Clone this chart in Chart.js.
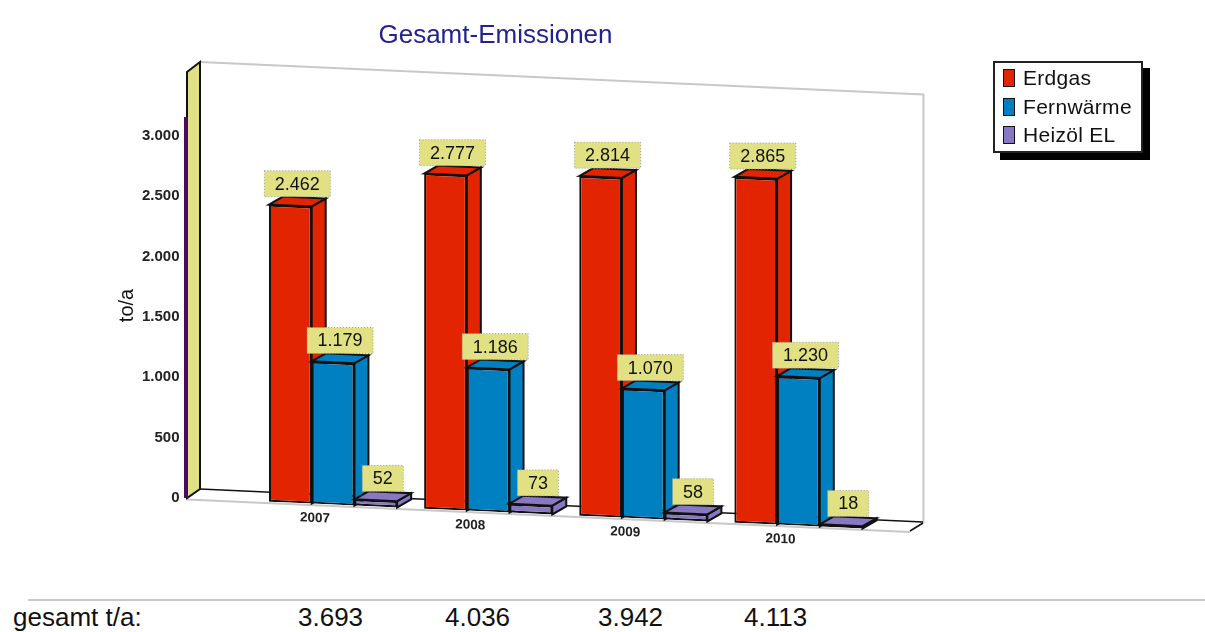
<!DOCTYPE html>
<html lang="de">
<head>
    <meta charset="UTF-8">
    <title>Gesamt-Emissionen</title>
    <script src="https://cdn.jsdelivr.net/npm/chart.js"></script>
    <style>
        body { margin: 0; background: #fff; font-family: "Liberation Sans", Arial, sans-serif; color: #111; }
        #wrap { position: relative; width: 1205px; height: 632px; overflow: hidden; }
        canvas { position: absolute; left: 0; top: 0; }
        #legend {
            position: absolute; left: 993px; top: 61px; width: 146px; height: 88px;
            background: #fff; border: 2px solid #222; box-shadow: 7px 7px 0 #000;
            font-size: 21px; letter-spacing: 0.3px; padding-top: 0;
        }
        .row { position: absolute; left: 8px; height: 20px; line-height: 20px; white-space: nowrap; }
        .swatch { display: inline-block; position: absolute; left: 0; top: 0; width: 10px; height: 16px; border: 1px solid #111; }
        .row span.t { position: absolute; left: 20px; top: -1px; }
        #rule { position: absolute; left: 28px; right: 0; top: 599px; height: 2px; background: #c8c8c8; }
        .total { position: absolute; top: 602px; font-size: 26px; line-height: 30px; white-space: nowrap; }
    </style>
</head>
<body>
<div id="wrap">
    <canvas id="chart" width="1205" height="590"></canvas>
    <div id="legend"></div>
    <div id="rule"></div>
    <div class="total" style="left:13px">gesamt t/a:</div>
</div>
<script>
    const years = ['2007', '2008', '2009', '2010'];
    const erdgas = [2462, 2777, 2814, 2865];
    const fernwaerme = [1179, 1186, 1070, 1230];
    const heizoel = [52, 73, 58, 18];
    const yTicks = [0, 500, 1000, 1500, 2000, 2500, 3000];
    const totals = ['3.693', '4.036', '3.942', '4.113'];
    const totalLeft = [298, 445, 598, 744];
    const seriesNames = ['Erdgas', 'Fernwärme', 'Heizöl EL'];
    const seriesColors = ['#e32400', '#0080c0', '#8878c3'];

    const FONT = '"Liberation Sans", Arial, sans-serif';
    const SLOPE = 0.045;   // the whole plot leans down to the right
    const X0 = 187;        // front left corner of the floor
    const DEPTH_X = 14;
    const DEPTH_Y = 8.6;

    function leaned(x, y) { return y + SLOPE * (x - X0); }
    function fmt(v) { return String(v).replace(/\B(?=(\d{3})+$)/g, '.'); }

    function poly(ctx, pts, fill, stroke, lw) {
        ctx.beginPath();
        pts.forEach((p, i) => i ? ctx.lineTo(p[0], p[1]) : ctx.moveTo(p[0], p[1]));
        ctx.closePath();
        if (fill) { ctx.fillStyle = fill; ctx.fill(); }
        if (stroke) { ctx.strokeStyle = stroke; ctx.lineWidth = lw; ctx.stroke(); }
    }

    function line(ctx, x1, y1, x2, y2, color, lw) {
        ctx.beginPath();
        ctx.moveTo(x1, y1);
        ctx.lineTo(x2, y2);
        ctx.strokeStyle = color;
        ctx.lineWidth = lw;
        ctx.stroke();
    }

    function drawRoom(chart, ctx, base) {
        line(ctx, 200, 62, 924, 94.5, '#c8c8c8', 2);
        line(ctx, 923.5, 94, 923.5, 523, '#c8c8c8', 2);
        line(ctx, 187, 499.5, 910, 532, '#c8c8c8', 2);
        line(ctx, 200, 489, 923, 522, '#111', 1.5);
        line(ctx, 910, 531, 923, 523, '#111', 1.5);
        poly(ctx, [[187, 72], [200, 62], [200, 489], [187, base]], '#e0e084', '#111', 2);
        line(ctx, 186, 117, 186, base, '#4b0a5a', 4);
    }

    function drawLabels(chart, ctx) {
        ctx.font = '18px ' + FONT;
        ctx.textAlign = 'center';
        ctx.textBaseline = 'middle';
        chart.data.datasets.forEach((ds, d) => {
            chart.getDatasetMeta(d).data.forEach((el, i) => {
                const text = fmt(ds.data[i]);
                const cx = el.x + DEPTH_X / 2;
                const bottom = leaned(cx, el.y - DEPTH_Y) - 0.5;
                const w = ctx.measureText(text).width + 21;
                const h = 26;
                ctx.fillStyle = '#e1e184';
                ctx.fillRect(cx - w / 2, bottom - h, w, h);
                ctx.save();
                ctx.setLineDash([1, 2]);
                ctx.strokeStyle = '#9a9a9a';
                ctx.lineWidth = 1;
                ctx.strokeRect(cx - w / 2, bottom - h, w, h);
                ctx.restore();
                ctx.fillStyle = '#111';
                ctx.fillText(text, cx, bottom - h / 2 + 1);
            });
        });
    }

    const room = {
        id: 'room',
        beforeDatasetsDraw(chart) {
            const ctx = chart.ctx;
            const base = chart.scales.y.getPixelForValue(0);
            drawRoom(chart, ctx, base);

            // everything on the floor leans with it
            ctx.save();
            ctx.transform(1, SLOPE, 0, 1, 0, -SLOPE * X0);

            ctx.font = 'bold 13.5px ' + FONT;
            ctx.fillStyle = '#222';
            ctx.textAlign = 'center';
            ctx.textBaseline = 'middle';
            years.forEach((y, i) => {
                ctx.fillText(y, chart.scales.x.getPixelForTick(i) - 18, base + 14.5);
            });

            // left bar first, so the next one covers its side face
            chart.data.datasets.forEach((ds, d) => {
                chart.getDatasetMeta(d).data.forEach(el => {
                    const r = el.x + el.width / 2;
                    const l = el.x - el.width / 2;
                    poly(ctx, [[r, el.y], [r + DEPTH_X, el.y - DEPTH_Y], [r + DEPTH_X, el.base - DEPTH_Y], [r, el.base]], seriesColors[d], '#111', 2);
                    poly(ctx, [[l, el.y], [l + DEPTH_X, el.y - DEPTH_Y], [r + DEPTH_X, el.y - DEPTH_Y], [r, el.y]], seriesColors[d], '#111', 2);
                    el.draw(ctx);
                });
            });
            ctx.restore();

            drawLabels(chart, ctx);
            return false;
        }
    };

    new Chart(document.getElementById('chart').getContext('2d'), {
        type: 'bar',
        data: {
            labels: years,
            datasets: [erdgas, fernwaerme, heizoel].map((data, i) => ({
                label: seriesNames[i],
                data,
                backgroundColor: seriesColors[i],
                borderColor: '#111',
                borderWidth: 2,
                borderSkipped: false,
                categoryPercentage: 0.826,
                barPercentage: 1
            }))
        },
        options: {
            responsive: false,
            animation: false,
            layout: { padding: { left: 115, right: 329, top: 20.6, bottom: 92 } },
            plugins: {
                legend: { display: false },
                tooltip: { enabled: false },
                title: {
                    display: true,
                    text: 'Gesamt-Emissionen',
                    color: '#232390',
                    font: { family: FONT, size: 26, weight: 'normal', lineHeight: 1.2 },
                    padding: { top: 0, bottom: 61.2 }
                }
            },
            scales: {
                x: { display: false, grid: { display: false } },
                y: {
                    min: 0,
                    max: 3190,
                    afterFit(s) { s.width = 140.5; },
                    afterBuildTicks(s) { s.ticks = yTicks.map(value => ({ value })); },
                    grid: { display: false, drawTicks: false },
                    border: { display: false },
                    title: {
                        display: true,
                        text: 'to/a',
                        color: '#111',
                        font: { family: FONT, size: 20 },
                        padding: { top: 0, bottom: 4 }
                    },
                    ticks: {
                        padding: 76,
                        color: '#222',
                        font: { family: FONT, size: 15, weight: 'bold' },
                        callback: v => fmt(v)
                    }
                }
            }
        },
        plugins: [room]
    });

    const legend = document.getElementById('legend');
    seriesNames.forEach((name, i) => {
        const row = document.createElement('div');
        row.className = 'row';
        row.style.top = (6 + i * 28.5) + 'px';
        row.innerHTML = '<span class="swatch" style="background:' + seriesColors[i] + '"></span><span class="t">' + name + '</span>';
        legend.appendChild(row);
    });

    const wrap = document.getElementById('wrap');
    totals.forEach((t, i) => {
        const div = document.createElement('div');
        div.className = 'total';
        div.style.left = totalLeft[i] + 'px';
        div.textContent = t;
        wrap.appendChild(div);
    });
</script>
</body>
</html>
